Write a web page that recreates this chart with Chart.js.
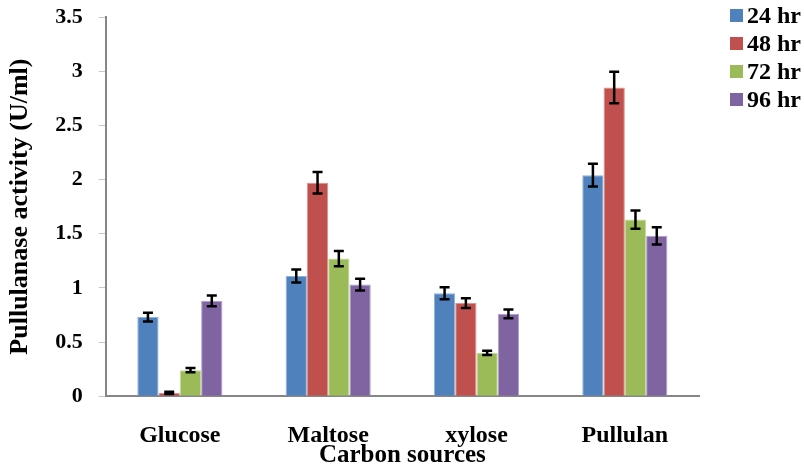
<!DOCTYPE html>
<html>
<head>
<meta charset="utf-8">
<script src="https://cdn.jsdelivr.net/npm/chart.js@4.4.1/dist/chart.umd.min.js"></script>
<style>
  html, body { margin: 0; padding: 0; background: #ffffff; }
  #wrap { width: 804px; height: 467px; }
</style>
</head>
<body>
<div id="wrap"><canvas id="c" width="804" height="467"></canvas></div>
<script>
// Carbon sources on the x axis
const categories = ['Glucose', 'Maltose', 'xylose', 'Pullulan'];

// Incubation times (legend entries)
const seriesNames = ['24 hr', '48 hr', '72 hr', '96 hr'];

// Pullulanase activity (U/ml) per carbon source, one array per incubation time
const hr24 = [0.73, 1.11, 0.95, 2.04];
const hr48 = [0.03, 1.97, 0.86, 2.85];
const hr72 = [0.24, 1.27, 0.40, 1.63];
const hr96 = [0.88, 1.03, 0.76, 1.48];

// Standard deviations for the error bars
const err24 = [0.04, 0.06, 0.055, 0.105];
const err48 = [0.01, 0.10, 0.045, 0.145];
const err72 = [0.02, 0.07, 0.02, 0.085];
const err96 = [0.05, 0.055, 0.04, 0.08];

// Y axis range and step
const yMin = 0;
const yMax = 3.5;
const yStep = 0.5;

const colors = ['#4F81BD', '#C0504D', '#9BBB59', '#8064A2'];
const edgeColors = ['#8FB0D8', '#DA9391', '#C3D69B', '#B1A0C7'];
const values = [hr24, hr48, hr72, hr96];
const errors = [err24, err48, err72, err96];

const FONT = "'Liberation Serif', 'Times New Roman', serif";
const AXIS_GREY = '#868686';

// Draws a capped vertical error bar on every bar
const errorBarPlugin = {
  id: 'errorBars',
  afterDatasetsDraw(chart) {
    const ctx = chart.ctx;
    const y = chart.scales.y;
    ctx.save();
    ctx.strokeStyle = '#000000';
    ctx.lineWidth = 2.5;
    chart.data.datasets.forEach((ds, di) => {
      const meta = chart.getDatasetMeta(di);
      meta.data.forEach((bar, i) => {
        const v = ds.data[i];
        const e = ds.errors[i];
        const top = y.getPixelForValue(v + e);
        const bottom = y.getPixelForValue(Math.max(v - e, 0));
        const cx = bar.x;
        const half = 5;
        ctx.beginPath();
        ctx.moveTo(cx, top);
        ctx.lineTo(cx, bottom);
        ctx.moveTo(cx - half, top);
        ctx.lineTo(cx + half, top);
        ctx.moveTo(cx - half, bottom);
        ctx.lineTo(cx + half, bottom);
        ctx.stroke();
      });
    });
    ctx.restore();
  }
};

// Legend in the top-right corner: colour square followed by the series name
const cornerLegendPlugin = {
  id: 'cornerLegend',
  afterDraw(chart) {
    const ctx = chart.ctx;
    const boxX = 730, box = 13, firstY = 15.5, rowGap = 28;
    ctx.save();
    ctx.font = "bold 24px " + FONT;
    ctx.textBaseline = 'middle';
    ctx.textAlign = 'left';
    chart.data.datasets.forEach((ds, i) => {
      const cy = firstY + i * rowGap;
      ctx.fillStyle = ds.backgroundColor;
      ctx.fillRect(boxX, cy - box / 2, box, box);
      ctx.fillStyle = '#000000';
      ctx.fillText(ds.label, boxX + box + 4, cy + 1);
    });
    ctx.restore();
  }
};

const datasets = seriesNames.map((name, i) => ({
  label: name,
  data: values[i],
  errors: errors[i],
  backgroundColor: colors[i],
  borderColor: edgeColors[i],
  borderWidth: { left: 1, right: 1, top: 1, bottom: 0 },
  categoryPercentage: 0.574,
  barPercentage: 1.0
}));

new Chart(document.getElementById('c'), {
  type: 'bar',
  data: { labels: categories, datasets: datasets },
  plugins: [errorBarPlugin, cornerLegendPlugin],
  options: {
    responsive: false,
    animation: false,
    devicePixelRatio: 1,
    layout: { padding: { left: 5, right: 105, top: 17, bottom: 0 } },
    plugins: {
      tooltip: { enabled: false },
      legend: { display: false }
    },
    scales: {
      x: {
        grid: { display: false, drawTicks: false },
        border: { display: true, color: AXIS_GREY, width: 2 },
        ticks: {
          color: '#000000',
          font: { family: FONT, size: 24, weight: 'bold' },
          padding: 25
        },
        title: {
          display: true,
          text: 'Carbon sources',
          color: '#000000',
          font: { family: FONT, size: 25, weight: 'bold' },
          padding: { top: -34, bottom: -4 }
        }
      },
      y: {
        min: yMin,
        max: yMax,
        // the top label may overhang the plot instead of pushing it down
        afterFit: (scale) => { scale.paddingTop = 0; scale.paddingBottom = 0; },
        grid: {
          drawOnChartArea: false,
          drawTicks: true,
          tickLength: 7,
          color: '#c8c8c8'
        },
        border: { display: true, color: AXIS_GREY, width: 2 },
        ticks: {
          stepSize: yStep,
          color: '#000000',
          font: { family: FONT, size: 22, weight: 'bold' },
          padding: 16,
          callback: (v) => String(v)
        },
        title: {
          display: true,
          text: 'Pullulanase activity (U/ml)',
          color: '#000000',
          font: { family: FONT, size: 26, weight: 'bold' },
          padding: { top: 0, bottom: 3 }
        }
      }
    }
  }
});
</script>
</body>
</html>
